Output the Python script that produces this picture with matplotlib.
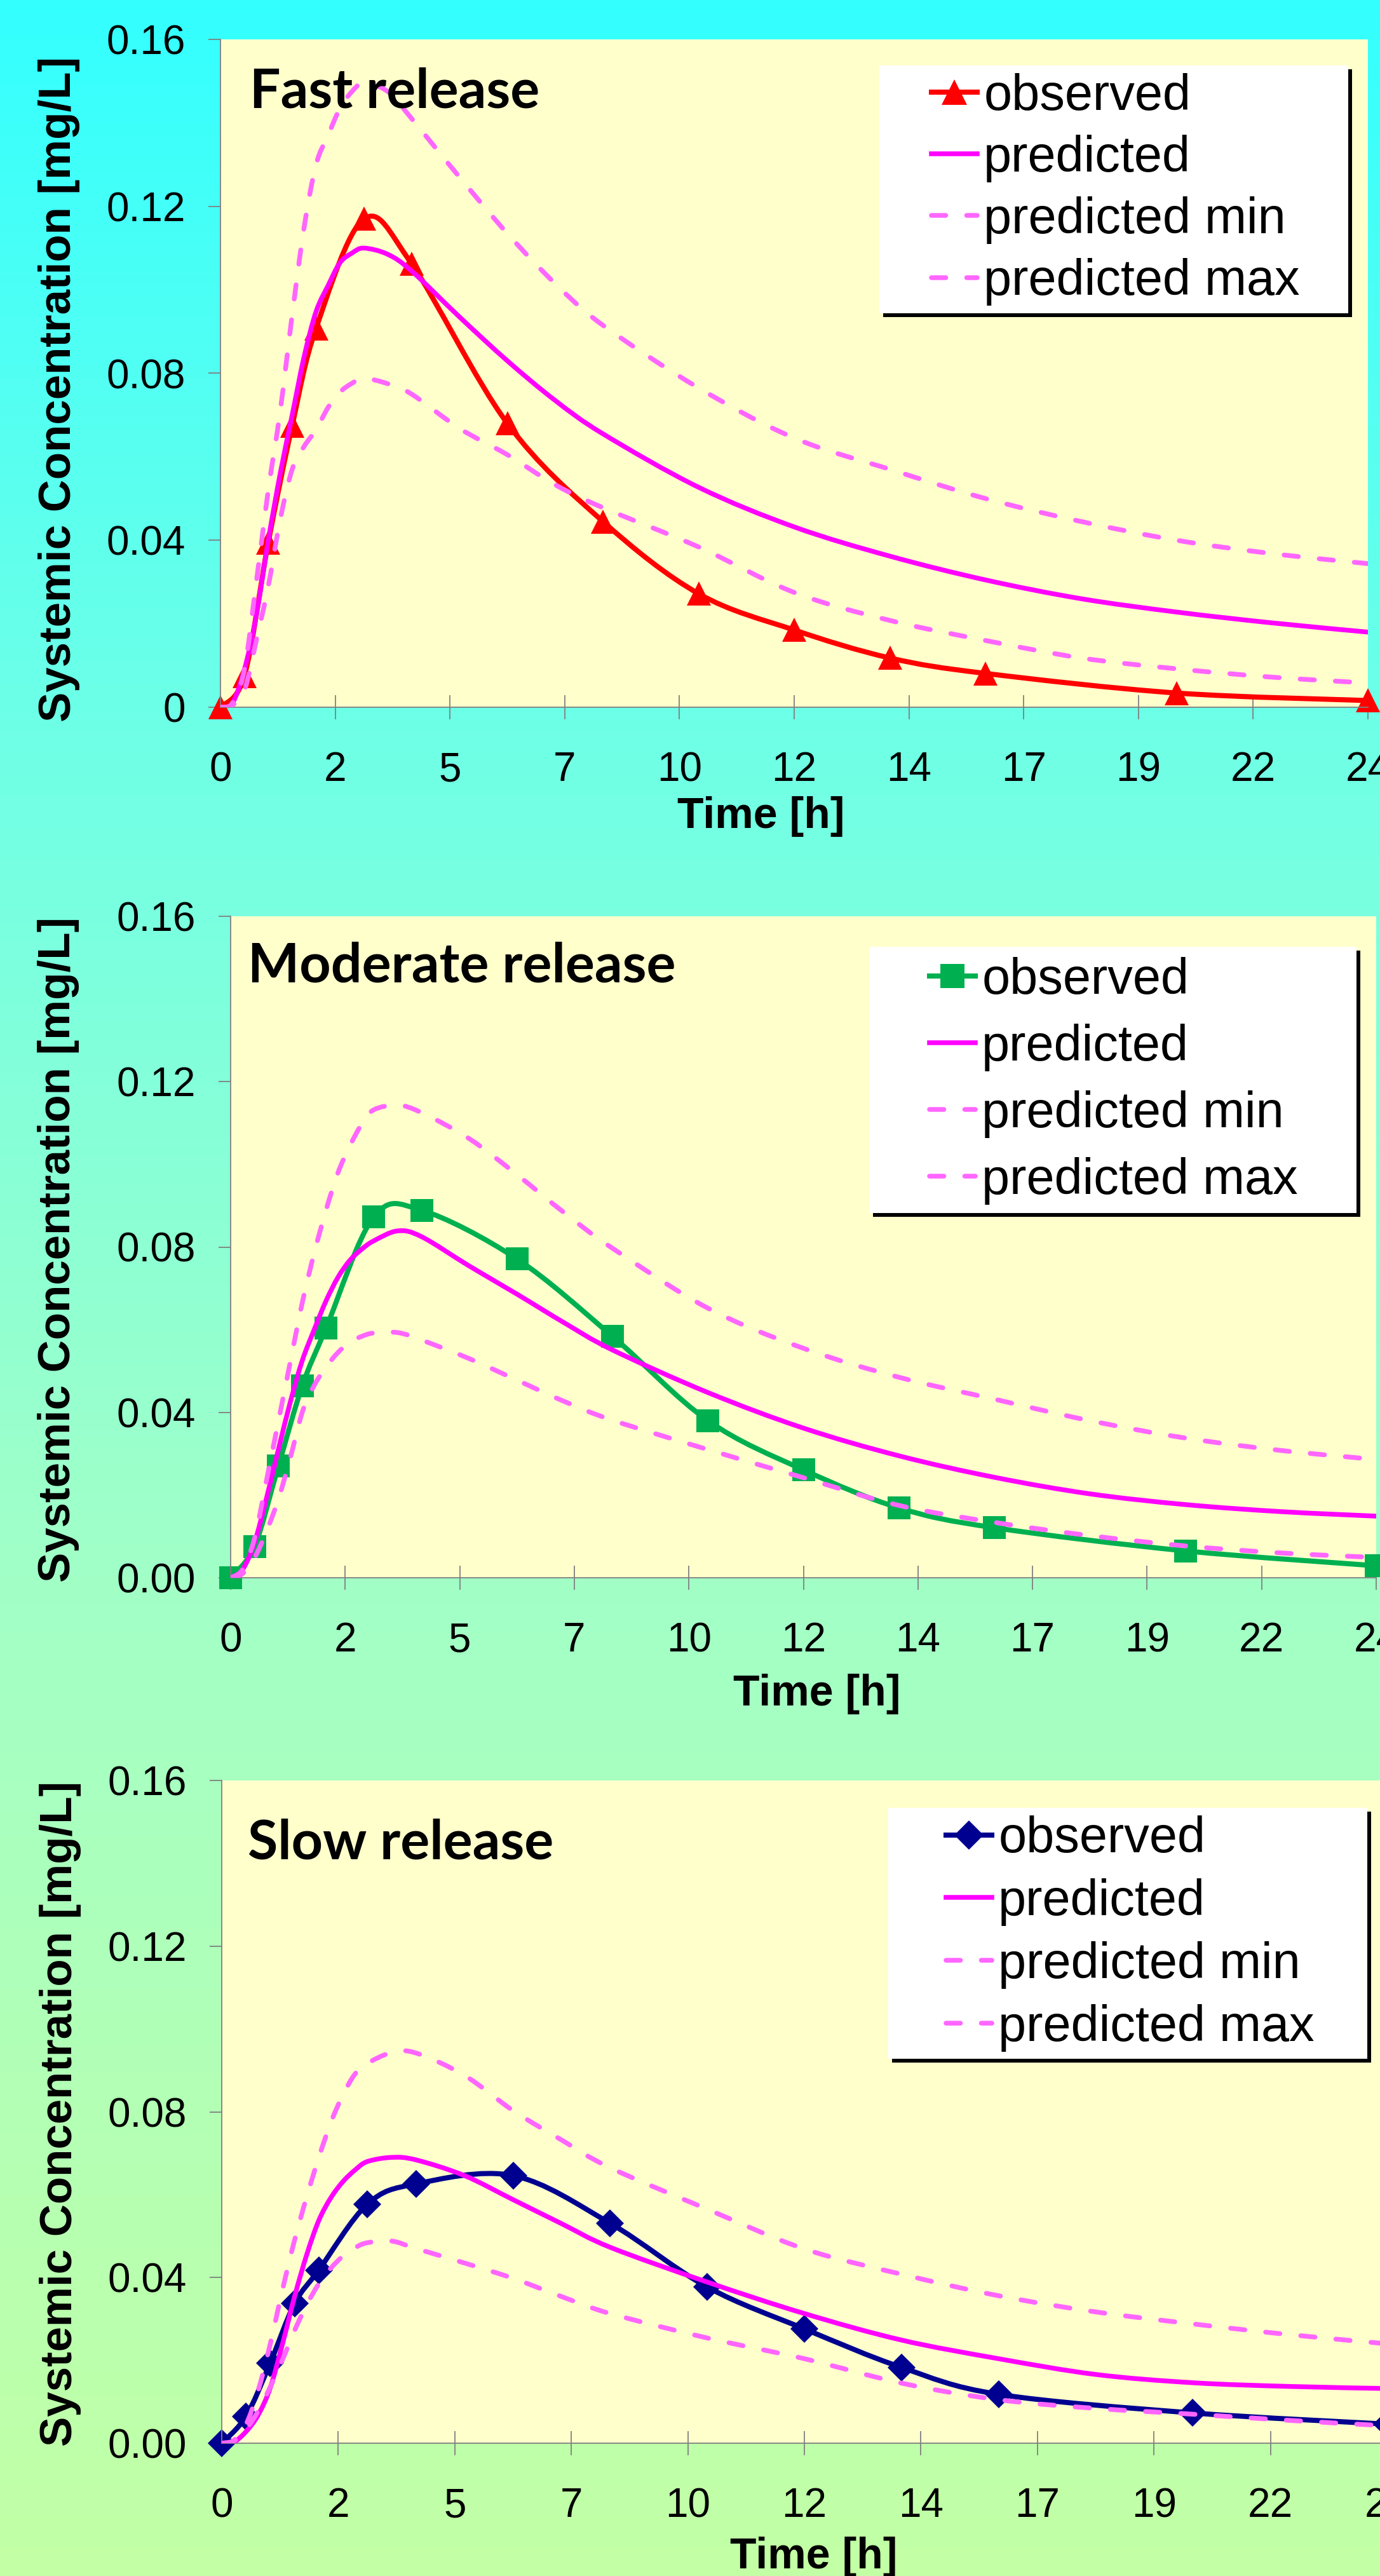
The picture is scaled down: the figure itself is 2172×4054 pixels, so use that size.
import numpy as np
import matplotlib
matplotlib.use("Agg")
import matplotlib.pyplot as plt
from matplotlib.path import Path
from matplotlib.patches import PathPatch, Rectangle
from matplotlib.lines import Line2D

# ---------------- data ----------------
x_tick_values = [0, 2.4, 4.8, 7.2, 9.6, 12, 14.4, 16.8, 19.2, 21.6, 24]
x_tick_labels = ["0", "2", "5", "7", "10", "12", "14", "17", "19", "22", "24"]
y_tick_values = [0, 0.04, 0.08, 0.12, 0.16]
y_tick_labels_fast = ["0", "0.04", "0.08", "0.12", "0.16"]
y_tick_labels_2dp = ["0.00", "0.04", "0.08", "0.12", "0.16"]
panel_titles = ["Fast release", "Moderate release", "Slow release"]
legend_labels = ["observed", "predicted", "predicted min", "predicted max"]
x_label = "Time [h]"
y_label = "Systemic Concentration [mg/L]"

t_obs = [0, 0.5, 1, 1.5, 2, 3, 4, 6, 8, 10, 12, 14, 16, 20, 24]
fast_obs = [0, 0.0075, 0.0395, 0.0675, 0.0908, 0.117, 0.1062, 0.068, 0.0445,
            0.0272, 0.0185, 0.0118, 0.0081, 0.0034, 0.0016]
moderate_obs = [0, 0.0076, 0.027, 0.0464, 0.0604, 0.0873, 0.0889, 0.0771, 0.0584,
                0.038, 0.0261, 0.0169, 0.0121, 0.0065, 0.0029]
slow_obs = [0, 0.0065, 0.0194, 0.0337, 0.0418, 0.0577, 0.0626, 0.0646, 0.0531,
            0.0377, 0.0276, 0.0183, 0.0118, 0.0073, 0.0046]

t_pred = [0, 0.25, 0.5, 0.75, 1, 1.25, 1.5, 1.75, 2, 2.25, 2.5, 2.75, 3, 3.5, 4,
          5, 6, 7, 8, 10, 12, 14, 16, 18, 20, 22, 24]
fast_pred = [0, 0.001, 0.009, 0.022, 0.040, 0.056, 0.070, 0.084, 0.0948, 0.101,
             0.1065, 0.1088, 0.1100, 0.1085, 0.1045, 0.0935, 0.083, 0.0735,
             0.0655, 0.0527, 0.0432, 0.0362, 0.0305, 0.026, 0.0228, 0.0202, 0.018]
fast_min = [0, 0.0005, 0.004, 0.016, 0.029, 0.045, 0.057, 0.0625, 0.0665, 0.0718,
            0.0755, 0.0776, 0.0788, 0.0775, 0.075, 0.0668, 0.0605, 0.0533,
            0.0478, 0.0384, 0.0275, 0.0208, 0.016, 0.0118, 0.0092, 0.0072, 0.0058]
fast_max = [0, 0.001, 0.009, 0.030, 0.052, 0.071, 0.094, 0.115, 0.130, 0.137,
            0.1435, 0.1475, 0.1495, 0.1475, 0.141, 0.127, 0.1135, 0.1015,
            0.0915, 0.0765, 0.0645, 0.057, 0.050, 0.0445, 0.040, 0.0368, 0.0344]

moderate_pred = [0, 0.002, 0.0085, 0.0192, 0.031, 0.0425, 0.0525, 0.060, 0.067,
                 0.0727, 0.0768, 0.0795, 0.0815, 0.0839, 0.0825, 0.0754, 0.0686,
                 0.0616, 0.0551, 0.0448, 0.0362, 0.0295, 0.0243, 0.0203, 0.0177,
                 0.016, 0.0149]
moderate_min = [0, 0.001, 0.0048, 0.0112, 0.019, 0.029, 0.040, 0.0465, 0.051,
                0.0545, 0.057, 0.0584, 0.0592, 0.0593, 0.0575, 0.053, 0.0478,
                0.0426, 0.0381, 0.031, 0.0242, 0.0175, 0.0134, 0.0102, 0.0077,
                0.006, 0.0049]
moderate_max = [0, 0.002, 0.0095, 0.0235, 0.0378, 0.0522, 0.0665, 0.0785, 0.089,
                0.098, 0.1045, 0.1098, 0.1132, 0.1143, 0.1125, 0.1062, 0.0975,
                0.0882, 0.0797, 0.0652, 0.0555, 0.0485, 0.0432, 0.038, 0.0338,
                0.0308, 0.0286]

slow_pred = [0, 0.0003, 0.0028, 0.0068, 0.0134, 0.0239, 0.0354, 0.0455, 0.0538,
             0.0593, 0.0632, 0.066, 0.068, 0.069, 0.0684, 0.0646, 0.0588, 0.053,
             0.0473, 0.0389, 0.0313, 0.0249, 0.0204, 0.0166, 0.0146, 0.0137, 0.0132]
slow_min = [0, 0.0005, 0.0033, 0.0078, 0.0136, 0.0201, 0.0272, 0.0334, 0.0385,
            0.0423, 0.0452, 0.0472, 0.0484, 0.0488, 0.047, 0.0435, 0.0398,
            0.0354, 0.0313, 0.0254, 0.0204, 0.0145, 0.0105, 0.0084, 0.007,
            0.0055, 0.0042]
slow_max = [0, 0.0007, 0.0045, 0.0127, 0.024, 0.037, 0.049, 0.0595, 0.069,
            0.0775, 0.0842, 0.0892, 0.0917, 0.0943, 0.0942, 0.0888, 0.0803,
            0.0732, 0.0665, 0.0565, 0.0469, 0.0408, 0.0356, 0.0317, 0.0288,
            0.0262, 0.024]

# ---------------- style ----------------
W, H, DPI = 2172, 4054, 100
plt.rcParams['font.family'] = ['Liberation Sans', 'DejaVu Sans']

PRED_COLOR = '#FF00FF'
BAND_COLOR = '#FF66FF'
DASH = (0, (3.0, 4.4))
LW = 5.4

panels = [
    dict(obs=fast_obs, pred=fast_pred, pmin=fast_min, pmax=fast_max,
         color='#FF0000', marker='^', ms=28, yt=y_tick_labels_fast,
         box=(347, 62, 2153, 1113),
         title_xy=(393, 170), xlab_xy=(1198, 1285), ylab_xy=(93, 612),
         leg_box=(1384, 103, 2122, 493), leg_anchor=(1466, 298), leg_sp=0.28),
    dict(obs=moderate_obs, pred=moderate_pred, pmin=moderate_min, pmax=moderate_max,
         color='#00B050', marker='s', ms=26, yt=y_tick_labels_2dp,
         box=(363, 1442, 2166, 2483),
         title_xy=(390, 1545), xlab_xy=(1286, 2666), ylab_xy=(92, 1966),
         leg_box=(1368, 1490, 2135, 1909), leg_anchor=(1463, 1701), leg_sp=0.38),
    dict(obs=slow_obs, pred=slow_pred, pmin=slow_min, pmax=slow_max,
         color='#000090', marker='D', ms=22, yt=y_tick_labels_2dp,
         box=(349, 2802, 2183, 3845),
         title_xy=(390, 2926), xlab_xy=(1281, 4024), ylab_xy=(95, 3326),
         leg_box=(1398, 2845, 2152, 3240), leg_anchor=(1489, 3043), leg_sp=0.30),
]


def smooth_path(xs, ys):
    """Excel-like smoothed line: cubic Bezier segments through the points."""
    x = np.asarray(xs, float)
    y = np.asarray(ys, float)
    n = len(x)
    verts = [(x[0], y[0])]
    codes = [Path.MOVETO]
    for i in range(n - 1):
        xp, yp = (x[i - 1], y[i - 1]) if i > 0 else (x[i], y[i])
        xn, yn = (x[i + 2], y[i + 2]) if i + 2 < n else (x[i + 1], y[i + 1])
        c1 = (x[i] + (x[i + 1] - xp) / 6.0, y[i] + (y[i + 1] - yp) / 6.0)
        c2 = (x[i + 1] - (xn - x[i]) / 6.0, y[i + 1] - (yn - y[i]) / 6.0)
        verts += [c1, c2, (x[i + 1], y[i + 1])]
        codes += [Path.CURVE4] * 3
    return Path(verts, codes)


fig = plt.figure(figsize=(W / DPI, H / DPI), dpi=DPI)

# background gradient
bg = fig.add_axes([0, 0, 1, 1], zorder=-10)
bg.axis('off')
yy = np.linspace(0, 1, 600)
stops_y = [0, 0.27, 0.6, 1.0]
stops_rgb = [(51, 255, 255), (108, 255, 232), (160, 255, 200), (195, 255, 165)]
grad = np.stack([np.interp(yy, stops_y, [c[k] for c in stops_rgb]) for k in range(3)],
                axis=-1) / 255.0
bg.imshow(grad[:, None, :], aspect='auto', extent=[0, 1, 0, 1], origin='upper')
bg.set_xlim(0, 1)
bg.set_ylim(0, 1)


def fx(px):
    return px / W


def fy(py):
    return 1 - py / H


for p, title in zip(panels, panel_titles):
    l, t, r, b = p['box']
    ax = fig.add_axes([fx(l), fy(b), (r - l) / W, (b - t) / H])
    ax.set_facecolor('#FFFFCC')
    ax.set_xlim(0, 24)
    ax.set_ylim(0, 0.16)
    for s in ['top', 'right']:
        ax.spines[s].set_visible(False)
    for s in ['left', 'bottom']:
        ax.spines[s].set_color('#808080')
        ax.spines[s].set_linewidth(1.3)
    ax.set_xticks(x_tick_values)
    ax.set_xticklabels(x_tick_labels)
    ax.set_yticks(y_tick_values)
    ax.set_yticklabels(p['yt'])
    ax.tick_params(axis='x', direction='inout', length=27.4, width=1.3,
                   color='#808080', pad=36, labelsize=46)
    ax.tick_params(axis='y', direction='out', length=13.7, width=1.3,
                   color='#808080', pad=26, labelsize=46)

    # observed
    ax.add_patch(PathPatch(smooth_path(t_obs, p['obs']), facecolor='none',
                           edgecolor=p['color'], lw=LW + 0.4, zorder=2,
                           capstyle='round', joinstyle='round'))
    ax.plot(t_obs, p['obs'], linestyle='none', marker=p['marker'], ms=p['ms'],
            color=p['color'], markeredgewidth=0, clip_on=False, zorder=2.1)
    # predicted
    ax.add_patch(PathPatch(smooth_path(t_pred, p['pred']), facecolor='none',
                           edgecolor=PRED_COLOR, lw=LW, zorder=3,
                           capstyle='round', joinstyle='round'))
    for series, z in ((p['pmin'], 4), (p['pmax'], 5)):
        ax.add_patch(PathPatch(smooth_path(t_pred, series), facecolor='none',
                               edgecolor=BAND_COLOR, lw=LW, zorder=z,
                               linestyle=DASH, capstyle='round', joinstyle='round'))

    # title
    fig.text(fx(p['title_xy'][0]), fy(p['title_xy'][1]), title,
             fontsize=62, fontweight='bold', family=['Lato', 'DejaVu Sans'],
             ha='left', va='baseline', zorder=15)
    # axis labels
    fig.text(fx(p['xlab_xy'][0]), fy(p['xlab_xy'][1]), x_label, fontsize=49,
             fontweight='bold', ha='center', va='center')
    fig.text(fx(p['ylab_xy'][0]), fy(p['ylab_xy'][1]), y_label, fontsize=51,
             fontweight='bold', ha='center', va='center', rotation=90)

    # legend box with shadow
    bx0, by0, bx1, by1 = p['leg_box']
    off = 6
    fig.add_artist(Rectangle((fx(bx0 + off), fy(by1 + off)), (bx1 - bx0) / W,
                             (by1 - by0) / H, transform=fig.transFigure,
                             facecolor='black', edgecolor='none', zorder=10))
    fig.add_artist(Rectangle((fx(bx0), fy(by1)), (bx1 - bx0) / W, (by1 - by0) / H,
                             transform=fig.transFigure, facecolor='white',
                             edgecolor='none', zorder=11))
    handles = [
        Line2D([], [], color=p['color'], lw=LW + 0.4, marker=p['marker'],
               ms=p['ms'] * 1.05, markeredgewidth=0),
        Line2D([], [], color=PRED_COLOR, lw=LW),
        Line2D([], [], color=BAND_COLOR, lw=LW, linestyle=DASH, dash_capstyle='round'),
        Line2D([], [], color=BAND_COLOR, lw=LW, linestyle=DASH, dash_capstyle='round'),
    ]
    leg = fig.legend(handles, legend_labels, loc='center left',
                     bbox_to_anchor=(fx(p['leg_anchor'][0]), fy(p['leg_anchor'][1])),
                     bbox_transform=fig.transFigure, frameon=False, fontsize=57,
                     handlelength=0.91, handletextpad=0.13, labelspacing=p['leg_sp'],
                     borderpad=0, borderaxespad=0)
    leg.set_zorder(20)

fig.savefig('out.png', dpi=DPI)
